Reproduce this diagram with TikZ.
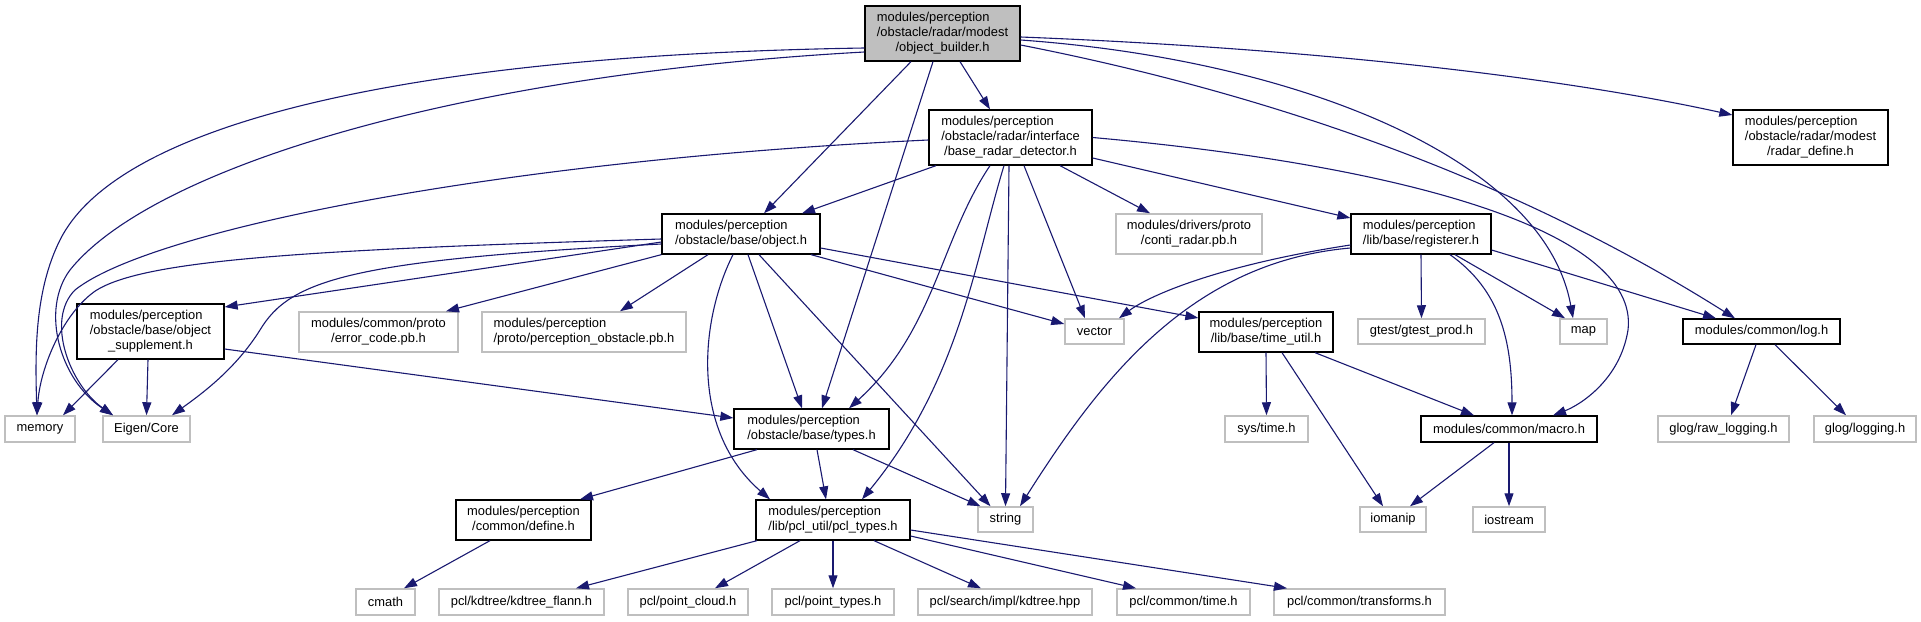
\documentclass[tikz,border=0pt]{standalone}
\usepackage{fontspec}
\setmainfont{Liberation Sans}
\usetikzlibrary{arrows.meta}
\definecolor{edgecol}{HTML}{191970}
\definecolor{graybd}{HTML}{BFBFBF}
\definecolor{rootfill}{HTML}{BFBFBF}
\newcommand\twol[2]{\begin{tabular}{@{}l@{}}#1\\\multicolumn{1}{@{}c@{}}{#2}\end{tabular}}
\newcommand\threel[3]{\begin{tabular}{@{}l@{}}#1\\#2\\\multicolumn{1}{@{}c@{}}{#3}\end{tabular}}
\begin{document}
\begin{tikzpicture}[x=1pt,y=-1pt,
  font=\fontsize{12.9}{15}\selectfont,
  doc/.style={draw=black, line width=1.3pt, fill=white, inner sep=0pt, align=center},
  ext/.style={draw=graybd, line width=1.5pt, fill=white, inner sep=0pt, align=center},
  root/.style={draw=black, line width=1.3pt, fill=rootfill, inner sep=0pt, align=center},
  dep/.style={draw=edgecol, line width=1.1pt, -{Triangle[length=13pt,width=9pt]}}]
\useasboundingbox (0,0) rectangle (1921,621);
% nodes
\node[root, minimum width=155pt, minimum height=55pt] (OB) at (942.5,33.5) {\threel{modules/perception}{/obstacle/radar/modest}{/object\_builder.h}};
\node[doc, minimum width=163pt, minimum height=55pt] (BRD) at (1010.5,137.5) {\threel{modules/perception}{/obstacle/radar/interface}{/base\_radar\_detector.h}};
\node[doc, minimum width=155pt, minimum height=55pt] (RD) at (1810.5,137.5) {\threel{modules/perception}{/obstacle/radar/modest}{/radar\_define.h}};
\node[doc, minimum width=158pt, minimum height=40pt] (O) at (741,234) {\twol{modules/perception}{/obstacle/base/object.h}};
\node[ext, minimum width=146pt, minimum height=40pt] (CR) at (1189,234) {\twol{modules/drivers/proto}{/conti\_radar.pb.h}};
\node[doc, minimum width=140pt, minimum height=40pt] (R) at (1421,234) {\twol{modules/perception}{/lib/base/registerer.h}};
\node[doc, minimum width=147pt, minimum height=55pt] (OS) at (150.5,331.5) {\threel{modules/perception}{/obstacle/base/object}{\_supplement.h}};
\node[ext, minimum width=159pt, minimum height=40pt] (EC) at (378.5,332) {\twol{modules/common/proto}{/error\_code.pb.h}};
\node[ext, minimum width=204pt, minimum height=40pt] (PO) at (584,332) {\twol{modules/perception}{/proto/perception\_obstacle.pb.h}};
\node[ext, minimum width=59pt, minimum height=25pt] (V) at (1094.5,331.5) {vector};
\node[doc, minimum width=134pt, minimum height=40pt] (T) at (1266,332) {\twol{modules/perception}{/lib/base/time\_util.h}};
\node[ext, minimum width=127pt, minimum height=25pt] (G) at (1421.5,331.5) {gtest/gtest\_prod.h};
\node[ext, minimum width=47pt, minimum height=25pt] (M) at (1583.5,331.5) {map};
\node[doc, minimum width=157pt, minimum height=25pt] (L) at (1761.5,331.5) {modules/common/log.h};
\node[ext, minimum width=70pt, minimum height=26pt] (MEM) at (40,429) {memory};
\node[ext, minimum width=87pt, minimum height=26pt] (E) at (146.5,429) {Eigen/Core};
\node[doc, minimum width=155pt, minimum height=40pt] (TY) at (811.5,429) {\twol{modules/perception}{/obstacle/base/types.h}};
\node[ext, minimum width=83pt, minimum height=26pt] (STM) at (1266.5,429) {sys/time.h};
\node[doc, minimum width=176pt, minimum height=26pt] (MA) at (1509,429) {modules/common/macro.h};
\node[ext, minimum width=131pt, minimum height=26pt] (GR) at (1723.5,429) {glog/raw\_logging.h};
\node[ext, minimum width=102pt, minimum height=26pt] (GL) at (1865,429) {glog/logging.h};
\node[doc, minimum width=135pt, minimum height=40pt] (D) at (523.5,520) {\twol{modules/perception}{/common/define.h}};
\node[doc, minimum width=154pt, minimum height=40pt] (P) at (833,520) {\twol{modules/perception}{/lib/pcl\_util/pcl\_types.h}};
\node[ext, minimum width=55pt, minimum height=25pt] (S) at (1005.5,519.5) {string};
\node[ext, minimum width=66pt, minimum height=25pt] (IOM) at (1393,519.5) {iomanip};
\node[ext, minimum width=72pt, minimum height=25pt] (IOS) at (1509,519.5) {iostream};
\node[ext, minimum width=59pt, minimum height=26pt] (CM) at (385.5,602) {cmath};
\node[ext, minimum width=165pt, minimum height=26pt] (KF) at (521.5,602) {pcl/kdtree/kdtree\_flann.h};
\node[ext, minimum width=120pt, minimum height=26pt] (PC) at (688,602) {pcl/point\_cloud.h};
\node[ext, minimum width=122pt, minimum height=26pt] (PT) at (833,602) {pcl/point\_types.h};
\node[ext, minimum width=174pt, minimum height=26pt] (KH) at (1005,602) {pcl/search/impl/kdtree.hpp};
\node[ext, minimum width=133pt, minimum height=26pt] (CT) at (1183.5,602) {pcl/common/time.h};
\node[ext, minimum width=171pt, minimum height=26pt] (TR) at (1359.5,602) {pcl/common/transforms.h};
% edges from object_builder.h
\draw[dep] ([yshift=-14.5pt]OB.west) .. controls (420,55) and (120,120) .. (60,240) .. controls (35,290) and (35,350) .. ([xshift=-3pt]MEM.north);
\draw[dep] ([yshift=-18.5pt]OB.west) .. controls (450,75) and (150,170) .. (70,270) .. controls (40,310) and (60,380) .. ([xshift=-33.5pt]E.north);
\draw[dep] ([xshift=-31.5pt]OB.south) -- ([xshift=23pt]O.north);
\draw[dep] ([xshift=-9.5pt]OB.south) -- ([xshift=10.5pt]TY.north);
\draw[dep] ([xshift=17.5pt]OB.south) -- ([xshift=-20.5pt]BRD.north);
\draw[dep] ([yshift=-6.5pt]OB.east) .. controls (1300,60) and (1545,160) .. ([xshift=-10.5pt]M.north);
\draw[dep] ([yshift=-11.5pt]OB.east) .. controls (1250,90) and (1500,170) .. ([xshift=-26.5pt]L.north);
\draw[dep] ([yshift=-3.5pt]OB.east) .. controls (1300,48) and (1550,75) .. ([yshift=22.5pt]RD.west);
% edges from base_radar_detector.h
\draw[dep] ([xshift=-74.5pt]BRD.south) -- ([xshift=61pt]O.north);
\draw[dep] ([yshift=-2.5pt]BRD.west) .. controls (500,160) and (150,230) .. (75,290) .. controls (45,320) and (70,385) .. ([xshift=-33.5pt]E.north);
\draw[dep] ([xshift=-20.5pt]BRD.south) .. controls (940,240) and (935,330) .. ([xshift=37.5pt]TY.north);
\draw[dep] ([xshift=-6.5pt]BRD.south) .. controls (975,260) and (960,380) .. ([xshift=29pt]P.north);
\draw[dep] ([xshift=-1.5pt]BRD.south) -- (S.north);
\draw[dep] ([xshift=13.5pt]BRD.south) -- ([xshift=-9.5pt]V.north);
\draw[dep] ([xshift=49.5pt]BRD.south) -- ([xshift=-39pt]CR.north);
\draw[dep] ([yshift=-20.5pt]BRD.east) -- ([yshift=16pt]R.west);
\draw[dep] (BRD.east) .. controls (1400,165) and (1640,230) .. (1628,330) .. controls (1620,380) and (1580,405) .. ([xshift=44pt]MA.north);
% edges from object.h
\draw[dep] ([yshift=-5pt]O.west) .. controls (300,250) and (130,260) .. (90,295) .. controls (60,320) and (40,370) .. ([xshift=-3pt]MEM.north);
\draw[dep] ([yshift=-10pt]O.west) .. controls (350,260) and (290,280) .. (260,330) .. controls (235,370) and (200,395) .. ([xshift=25.5pt]E.north);
\draw[dep] ([yshift=-8pt]O.west) -- ([yshift=24.5pt]OS.east);
\draw[dep] (O.south west) -- ([xshift=67.5pt]EC.north);
\draw[dep] ([xshift=-33pt]O.south) -- ([xshift=36pt]PO.north);
\draw[dep] ([xshift=7pt]O.south) -- ([xshift=-9.5pt]TY.north);
\draw[dep] ([xshift=18pt]O.south) -- ([xshift=-15pt]S.north);
\draw[dep] ([xshift=70pt]O.south) -- ([yshift=7.5pt]V.west);
\draw[dep] ([yshift=-14pt]O.east) -- ([yshift=14pt]T.west);
\draw[dep] ([xshift=-8pt]O.south) .. controls (700,320) and (690,430) .. ([xshift=-63pt]P.north);
% edges from object_supplement.h
\draw[dep] ([xshift=-32.5pt]OS.south) -- ([xshift=23pt]MEM.north);
\draw[dep] ([xshift=-2.5pt]OS.south) -- (E.north);
\draw[dep] ([yshift=-17.5pt]OS.east) -- ([yshift=11pt]TY.west);
% edges from registerer.h
\draw[dep] ([yshift=-11pt]R.west) .. controls (1220,265) and (1150,295) .. ([xshift=24.5pt]V.north);
\draw[dep] ([yshift=-14pt]R.west) .. controls (1190,262) and (1100,380) .. ([xshift=14.5pt]S.north);
\draw[dep] (R.south) -- (G.north);
\draw[dep] ([xshift=34pt]R.south) -- ([xshift=-18.5pt]M.north);
\draw[dep] ([xshift=29pt]R.south) .. controls (1500,290) and (1512,340) .. ([xshift=3pt]MA.north);
\draw[dep] ([yshift=-16pt]R.east) -- ([xshift=-45.5pt]L.north);
% edges from time_util.h
\draw[dep] (T.south) -- (STM.north);
\draw[dep] ([xshift=16pt]T.south) -- ([xshift=-10pt]IOM.north);
\draw[dep] ([xshift=49pt]T.south) -- ([xshift=-35pt]MA.north);
% edges from macro.h
\draw[dep] ([xshift=-15pt]MA.south) -- ([xshift=17pt]IOM.north);
\draw[dep] (MA.south) -- (IOS.north);
% edges from log.h
\draw[dep] ([xshift=-5.5pt]L.south) -- ([xshift=7.5pt]GR.north);
\draw[dep] ([xshift=13.5pt]L.south) -- ([xshift=-19pt]GL.north);
% edges from types.h
\draw[dep] ([xshift=-54.5pt]TY.south) -- ([xshift=56.5pt]D.north);
\draw[dep] ([xshift=5.5pt]TY.south) -- ([xshift=-7pt]P.north);
\draw[dep] ([xshift=41.5pt]TY.south) -- ([xshift=-25pt]S.north);
% edges from define.h
\draw[dep] ([xshift=-33.5pt]D.south) -- ([xshift=18.5pt]CM.north);
% edges from pcl_types.h
\draw[dep] ([xshift=-76pt]P.south) -- ([xshift=54.5pt]KF.north);
\draw[dep] ([xshift=-33pt]P.south) -- ([xshift=27pt]PC.north);
\draw[dep] (P.south) -- (PT.north);
\draw[dep] ([xshift=41pt]P.south) -- ([xshift=-24pt]KH.north);
\draw[dep] ([yshift=-16pt]P.east) -- ([xshift=-47.5pt]CT.north);
\draw[dep] ([yshift=-10pt]P.east) -- ([xshift=-72.5pt]TR.north);
\end{tikzpicture}
\end{document}
